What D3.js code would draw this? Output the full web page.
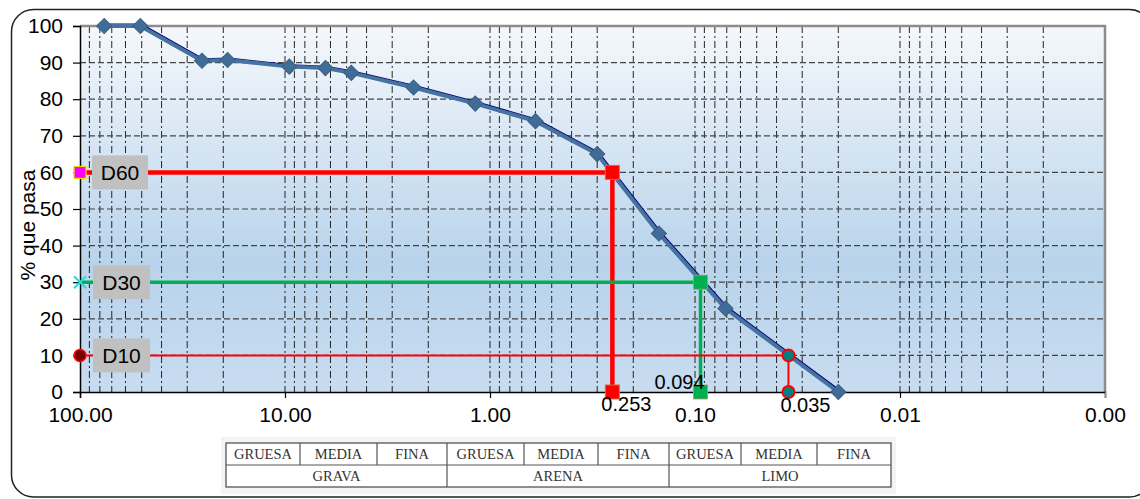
<!DOCTYPE html>
<html>
<head>
<meta charset="utf-8">
<script src="https://cdn.jsdelivr.net/npm/d3@7"></script>
<style>
  html, body { margin: 0; padding: 0; background: #ffffff; }
  svg { display: block; }
  text { font-family: "Liberation Sans", Arial, sans-serif; }
  text.serif { font-family: "Liberation Serif", "Times New Roman", serif; }
</style>
</head>
<body>
<svg id="chart" width="1140" height="499"></svg>
<script>
// ---------- data ----------
const sieveSizes = [76.2, 50.8, 25.4, 19.05, 9.525, 6.35, 4.75, 2.36, 1.18, 0.6, 0.3, 0.15, 0.071, 0.02];
const percentPassing = [100, 100, 90.5, 90.7, 88.9, 88.5, 87.2, 83.2, 78.8, 74.0, 65.0, 43.3, 22.8, 0];
const yTicks = [0, 10, 20, 30, 40, 50, 60, 70, 80, 90, 100];
const xTickValues = [100, 10, 1, 0.1, 0.01, 0.001];
const xTickLabels = ["100.00", "10.00", "1.00", "0.10", "0.01", "0.00"];
const dNames = ["D60", "D30", "D10"];
const dPercents = [60, 30, 10];
const dSizes = [0.253, 0.094, 0.035];
const dSizeLabels = ["0.253", "0.094", "0.035"];
const tableTopRow = ["GRUESA", "MEDIA", "FINA", "GRUESA", "MEDIA", "FINA", "GRUESA", "MEDIA", "FINA"];
const tableBottomRow = ["GRAVA", "ARENA", "LIMO"];

// ---------- layout ----------
const svg = d3.select("#chart");
const L = 80, R = 1105, T = 26, B = 392;
const x = d3.scaleLog().domain([100, 0.001]).range([L, R]);
const y = d3.scaleLinear().domain([0, 100]).range([B, T]);

// outer rounded frame
svg.append("rect").attr("x", 11.5).attr("y", 9.5).attr("width", 1140).attr("height", 487.5)
  .attr("rx", 22).attr("fill", "#ffffff").attr("stroke", "#222").attr("stroke-width", 1.5);

// gradient background
const defs = svg.append("defs");
const grad = defs.append("linearGradient").attr("id", "bg").attr("x1", 0).attr("y1", 0).attr("x2", 0).attr("y2", 1);
grad.append("stop").attr("offset", "0%").attr("stop-color", "#f5f8fc");
grad.append("stop").attr("offset", "65%").attr("stop-color", "#b8d3eb");
grad.append("stop").attr("offset", "100%").attr("stop-color", "#c8dcf0");
svg.append("rect").attr("x", L).attr("y", T).attr("width", R - L).attr("height", B - T).attr("fill", "url(#bg)");

// vertical log grid
const minor = [];
for (let e = 2; e >= -3; e--) {
  for (let m = 1; m <= 9; m++) {
    const v = m * Math.pow(10, e - 1);
    if (v < 100 && v > 0.001) minor.push(v);
  }
}
svg.append("g").selectAll("line").data(minor).join("line")
  .attr("x1", d => x(d)).attr("x2", d => x(d)).attr("y1", T).attr("y2", B)
  .attr("stroke", "#111").attr("stroke-width", 1).attr("stroke-dasharray", "7,3,2,3")
  .attr("opacity", 0.9);

// horizontal grid
svg.append("g").selectAll("line").data(yTicks.filter(d => d > 0 && d < 100)).join("line")
  .attr("x1", L).attr("x2", R).attr("y1", d => y(d)).attr("y2", d => y(d))
  .attr("stroke", "#444").attr("stroke-width", 1.2).attr("stroke-dasharray", "6,3");

// plot frame: top/right gray
svg.append("path").attr("d", `M${L},${T}H${R}V${B}`).attr("fill", "none")
  .attr("stroke", "#8c8c8c").attr("stroke-width", 2.5);

// axes
const yAxis = svg.append("g").attr("transform", `translate(${L},0)`)
  .call(d3.axisLeft(y).tickValues(yTicks).tickSize(7).tickPadding(10));
yAxis.select(".domain").attr("stroke", "#000").attr("stroke-width", 1.5);
yAxis.selectAll(".tick line").attr("stroke", "#000").attr("stroke-width", 1.2);
yAxis.selectAll("text").attr("font-size", 21).attr("fill", "#000");

const xAxis = svg.append("g").attr("transform", `translate(0,${B})`)
  .call(d3.axisBottom(x).tickValues(xTickValues).tickFormat((d, i) => xTickLabels[i]).tickSize(6).tickPadding(9));
xAxis.select(".domain").attr("stroke", "#000").attr("stroke-width", 1.5);
xAxis.selectAll(".tick line").attr("stroke", "#000").attr("stroke-width", 1.2);
xAxis.selectAll("text").attr("font-size", 21).attr("fill", "#000");
xAxis.selectAll(".tick").filter((d, i) => i === xTickValues.length - 1).select("line").attr("stroke", "#8c8c8c");

// y label
svg.append("text").attr("transform", `translate(35,225) rotate(-90)`).attr("text-anchor", "middle")
  .attr("font-size", 21).attr("fill", "#000").text("% que pasa");

// ---------- D lines ----------
const dColors = ["#ff0000", "#00b050", "#ff0000"];
const dWidths = [4.5, 3.5, 2];
dNames.forEach((n, i) => {
  svg.append("path")
    .attr("d", `M${x(100)},${y(dPercents[i])}H${x(dSizes[i])}V${y(0)}`)
    .attr("fill", "none").attr("stroke", dColors[i]).attr("stroke-width", dWidths[i]);
});

// ---------- gradation curve ----------
const pts = sieveSizes.map((s, i) => [s, percentPassing[i]]);
const line = d3.line().x(d => x(d[0])).y(d => y(d[1]));
svg.append("path").datum(pts).attr("d", line).attr("fill", "none")
  .attr("stroke", "#00007a").attr("stroke-width", 2.5).attr("transform", "translate(1.2,-1.2)");
svg.append("path").datum(pts).attr("d", line).attr("fill", "none")
  .attr("stroke", "#4673a0").attr("stroke-width", 4);
svg.append("g").selectAll("path").data(pts).join("path")
  .attr("d", d3.symbol(d3.symbolSquare, 115)())
  .attr("transform", d => `translate(${x(d[0])},${y(d[1])}) rotate(45)`)
  .attr("fill", "#406d98").attr("stroke", "#3a5f82").attr("stroke-width", 1);

// ---------- D markers ----------
svg.append("rect").attr("x", x(100) - 6).attr("y", y(60) - 6).attr("width", 12).attr("height", 12)
  .attr("fill", "#ff00ff").attr("stroke", "#e6e600").attr("stroke-width", 1.2);
[60, 0].forEach(p => {
  svg.append("rect").attr("x", x(dSizes[0]) - 7).attr("y", y(p) - 7).attr("width", 14).attr("height", 14)
    .attr("fill", "#ff0000").attr("stroke", "#d0703a").attr("stroke-width", 1);
});
const cx30 = x(100), cy30 = y(30);
svg.append("path").attr("d", `M${cx30 - 6},${cy30 - 6}L${cx30 + 6},${cy30 + 6}M${cx30 - 6},${cy30 + 6}L${cx30 + 6},${cy30 - 6}`)
  .attr("stroke", "#22dde0").attr("stroke-width", 2);
[30, 0].forEach(p => {
  svg.append("rect").attr("x", x(dSizes[1]) - 7).attr("y", y(p) - 7).attr("width", 14).attr("height", 14)
    .attr("fill", "#00b050").attr("stroke", "#d08a5a").attr("stroke-width", 0.8);
});
svg.append("circle").attr("cx", x(100)).attr("cy", y(10)).attr("r", 6)
  .attr("fill", "#7a0000").attr("stroke", "#ff0000").attr("stroke-width", 1.5);
[10, 0].forEach(p => {
  svg.append("circle").attr("cx", x(dSizes[2])).attr("cy", y(p)).attr("r", 6)
    .attr("fill", "#008080").attr("stroke", "#ff0000").attr("stroke-width", 2);
});

// label boxes
const boxX = [92, 93, 93];
const boxW = [56, 57, 57];
dNames.forEach((n, i) => {
  const cy = y(dPercents[i]);
  svg.append("rect").attr("x", boxX[i]).attr("y", cy - 17).attr("width", boxW[i]).attr("height", 34)
    .attr("fill", "#c0c0c0");
  svg.append("text").attr("x", boxX[i] + boxW[i] / 2).attr("y", cy + 7.5).attr("text-anchor", "middle")
    .attr("font-size", 21).attr("fill", "#000").text(n);
});

// value labels
const valDx = [14, -21, 17];
const valDy = [19, -3, 20];
dSizeLabels.forEach((t, i) => {
  svg.append("text").attr("x", x(dSizes[i]) + valDx[i]).attr("y", y(0) + valDy[i])
    .attr("text-anchor", "middle").attr("font-size", 20).attr("fill", "#000").text(t);
});

// ---------- classification table ----------
const tbl = svg.append("g");
tbl.append("rect").attr("x", 221).attr("y", 437).attr("width", 675).attr("height", 57).attr("fill", "#f3f3f3");
const colEdges = [226, 300, 377, 447, 524, 598, 669, 741, 817, 891];
const groupEdges = [226, 447, 669, 891];
const tTop = 443, tMid = 465, tBot = 487;
tbl.append("rect").attr("x", 226).attr("y", tTop).attr("width", 891 - 226).attr("height", tBot - tTop)
  .attr("fill", "#ffffff").attr("stroke", "#555").attr("stroke-width", 1.3);
tbl.append("line").attr("x1", 226).attr("x2", 891).attr("y1", tMid).attr("y2", tMid)
  .attr("stroke", "#555").attr("stroke-width", 1.2);
tbl.selectAll("line.c").data(colEdges.slice(1, -1)).join("line").attr("class", "c")
  .attr("x1", d => d).attr("x2", d => d).attr("y1", tTop).attr("y2", d => groupEdges.includes(d) ? tBot : tMid)
  .attr("stroke", "#555").attr("stroke-width", 1.2);
tbl.selectAll("text.t").data(tableTopRow).join("text").attr("class", "t serif")
  .attr("x", (d, i) => (colEdges[i] + colEdges[i + 1]) / 2).attr("y", tMid - 6)
  .attr("text-anchor", "middle").attr("font-size", 14.5).attr("fill", "#333").text(d => d);
tbl.selectAll("text.b").data(tableBottomRow).join("text").attr("class", "b serif")
  .attr("x", (d, i) => (groupEdges[i] + groupEdges[i + 1]) / 2).attr("y", tBot - 6)
  .attr("text-anchor", "middle").attr("font-size", 14.5).attr("fill", "#333").text(d => d);
</script>
</body>
</html>
